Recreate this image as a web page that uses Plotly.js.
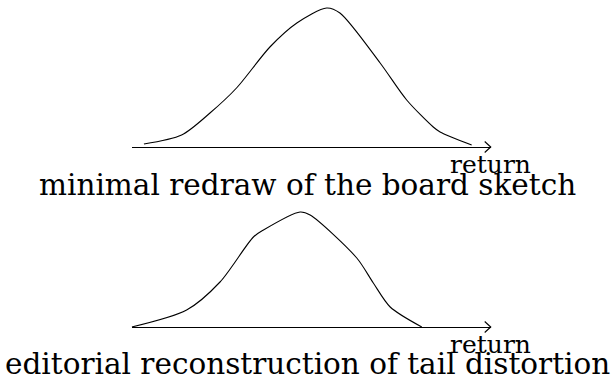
<!DOCTYPE html>
<html>
<head>
<meta charset="utf-8">
<script src="https://cdn.plot.ly/plotly-3.0.1.min.js"></script>
<style>html,body{margin:0;padding:0;background:#fff;}#chart{width:614px;height:382px;}</style>
</head>
<body>
<div id="chart"></div>
<script>
// Upper panel: board sketch of the return density (return position, height)
var sketchReturn = [3.4, 13.9, 21.8, 29.2, 38.5, 46.0, 54.3, 58.0, 69.2, 76.6, 84.0, 85.9, 94.7];
var sketchDensity = [0.03, 0.12, 0.34, 0.59, 1.00, 1.24, 1.39, 1.34, 0.84, 0.47, 0.20, 0.15, 0.02];

// Lower panel: editorial reconstruction with tail distortion
var editReturn = [0, 15.3, 24.6, 33.9, 36.7, 46.9, 49.7, 62.7, 67.3, 72.0, 80.8];
var editDensity = [0, 0.17, 0.45, 0.90, 0.97, 1.15, 1.12, 0.69, 0.44, 0.20, 0.00];

var panelTitles = ["minimal redraw of the board sketch", "editorial reconstruction of tail distortion"];
var axisLabel = "return";

var FONT = "DejaVu Serif, Liberation Serif, serif";

var traces = [
  {x: sketchReturn, y: sketchDensity, xaxis: "x", yaxis: "y", mode: "lines",
   line: {color: "#000", width: 1.1, shape: "spline", smoothing: 0.8}, hoverinfo: "skip"},
  {x: editReturn, y: editDensity, xaxis: "x2", yaxis: "y2", mode: "lines",
   line: {color: "#000", width: 1.1, shape: "spline", smoothing: 0.8}, hoverinfo: "skip"}
];

function xax(anchor, dom) {
  return {domain: dom, range: [0, 100], anchor: anchor, showline: true, linecolor: "#000",
    linewidth: 1.2, showgrid: false, zeroline: false, ticks: "", showticklabels: false, fixedrange: true};
}
function yax(anchor, dom) {
  return {domain: dom, range: [0, 1.4], anchor: anchor, visible: false, showgrid: false,
    zeroline: false, fixedrange: true};
}

var xdom = [131.7 / 614, 490.7 / 614];

function arrowHead(xref, yref) {
  return {type: "path", xref: xref + " domain", yref: yref + " domain", xsizemode: "pixel", ysizemode: "pixel",
    xanchor: 1, yanchor: 0, path: "M -6 5.5 Q -2 1.8 0 0 Q -2 -1.8 -6 -5.5",
    line: {color: "#000", width: 1.1}};
}

var layout = {
  width: 614, height: 382,
  margin: {l: 0, r: 0, t: 0, b: 0, pad: 0},
  paper_bgcolor: "#fff", plot_bgcolor: "rgba(0,0,0,0)",
  showlegend: false,
  xaxis: xax("y", xdom),
  yaxis: yax("x", [(382 - 147) / 382, (382 - 7) / 382]),
  xaxis2: xax("y2", xdom),
  yaxis2: yax("x2", [(382 - 327) / 382, (382 - 187) / 382]),
  shapes: [arrowHead("x", "y"), arrowHead("x2", "y2")],
  annotations: [
    {text: axisLabel, xref: "x", yref: "y", x: 100, y: 0, xanchor: "center", yanchor: "middle",
     yshift: -17, showarrow: false, font: {family: FONT, size: 25, color: "#000"}},
    {text: axisLabel, xref: "x2", yref: "y2", x: 100, y: 0, xanchor: "center", yanchor: "middle",
     yshift: -17, showarrow: false, font: {family: FONT, size: 25, color: "#000"}},
    {text: panelTitles[0], xref: "paper", yref: "paper", x: 0.5, y: (382 - 185) / 382,
     xanchor: "center", yanchor: "middle", showarrow: false, font: {family: FONT, size: 29.5, color: "#000"}},
    {text: panelTitles[1], xref: "paper", yref: "paper", x: 0.5, y: (382 - 364) / 382,
     xanchor: "center", yanchor: "middle", showarrow: false, font: {family: FONT, size: 29.5, color: "#000"}}
  ]
};

Plotly.newPlot("chart", traces, layout, {displayModeBar: false, staticPlot: true});
</script>
</body>
</html>
